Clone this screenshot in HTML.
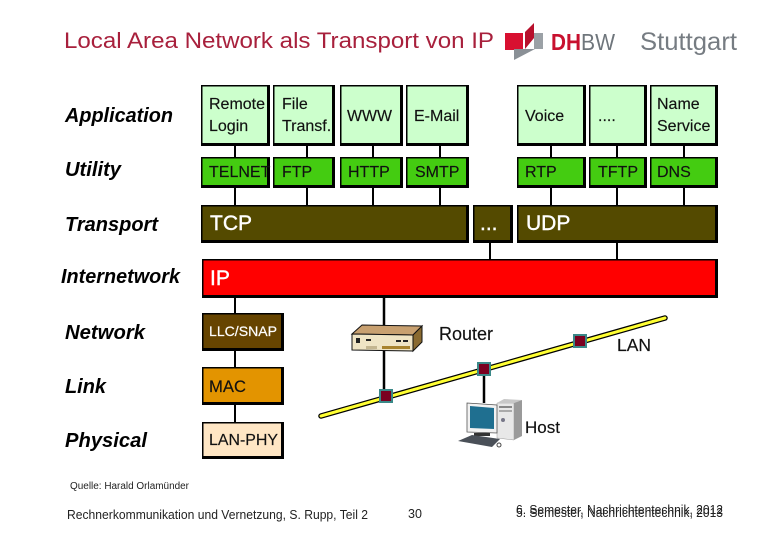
<!DOCTYPE html>
<html><head><meta charset="utf-8"><style>
html,body{margin:0;padding:0;background:#fff}
svg{display:block}
text{font-family:"Liberation Sans",sans-serif;fill:#111}
.a{font-size:16px;stroke:#111;stroke-width:.15}
.l{font-size:20px;font-style:italic;font-weight:bold;fill:#000}
.w{fill:#fff;font-size:21px;stroke:#fff;stroke-width:.4}
.f{fill:#222}
</style></head><body>
<svg width="780" height="540" viewBox="0 0 780 540" xmlns="http://www.w3.org/2000/svg">
<rect width="780" height="540" fill="#fff"/>
<text x="64" y="48" font-size="22.5" style="fill:#a8203c" textLength="430" lengthAdjust="spacingAndGlyphs">Local Area Network als Transport von IP</text>
<!-- logo -->
<polygon points="505,33 523,33 523,50 505,50" fill="#d81030"/>
<polygon points="534,33 543,33 543,49 534,49" fill="#9ba1a6"/>
<polygon points="514,49 535,49 514,60" fill="#8a9096"/>
<polygon points="525,32 534,23 534,38 525,49" fill="#b8102c"/>
<text x="551" y="50" font-size="23" font-weight="bold" style="fill:#c8102e" textLength="30" lengthAdjust="spacingAndGlyphs">DH</text>
<text x="581" y="50" font-size="23" style="fill:#6f767c" textLength="34" lengthAdjust="spacingAndGlyphs">BW</text>
<text x="640" y="50" font-size="25" style="fill:#767c82" textLength="97" lengthAdjust="spacingAndGlyphs">Stuttgart</text>
<!-- connectors -->
<g stroke="#000" stroke-width="2">
<line x1="235" y1="145" x2="235" y2="205"/><line x1="307" y1="145" x2="307" y2="205"/>
<line x1="373" y1="145" x2="373" y2="205"/><line x1="440" y1="145" x2="440" y2="205"/>
<line x1="551" y1="145" x2="551" y2="205"/><line x1="617" y1="145" x2="617" y2="205"/>
<line x1="684" y1="145" x2="684" y2="205"/>
<line x1="490" y1="243" x2="490" y2="259"/><line x1="617" y1="243" x2="617" y2="259"/>
<line x1="235" y1="297" x2="235" y2="422"/>
<line x1="384" y1="297" x2="384" y2="397" stroke-width="2.5"/>
<line x1="484" y1="369" x2="484" y2="403" stroke-width="2.5"/>
</g>
<!-- app boxes -->
<g fill="#000">
<rect x="201" y="85" width="69" height="61"/><rect x="273" y="85" width="62" height="61"/>
<rect x="340" y="85" width="63" height="61"/><rect x="406" y="85" width="63" height="61"/>
<rect x="517" y="85" width="69" height="61"/><rect x="589" y="85" width="58" height="61"/>
<rect x="650" y="85" width="68" height="61"/>
<rect x="201" y="157" width="69" height="31"/><rect x="273" y="157" width="62" height="31"/>
<rect x="340" y="157" width="63" height="31"/><rect x="406" y="157" width="63" height="31"/>
<rect x="517" y="157" width="69" height="31"/><rect x="589" y="157" width="58" height="31"/>
<rect x="650" y="157" width="68" height="31"/>
<rect x="201" y="205" width="268" height="38"/><rect x="473" y="205" width="40" height="38"/>
<rect x="517" y="205" width="201" height="38"/><rect x="202" y="259" width="516" height="39"/>
<rect x="202" y="313" width="82" height="38"/><rect x="202" y="367" width="82" height="38"/>
<rect x="202" y="422" width="82" height="37"/>
</g>
<g fill="#ccffcc">
<rect x="202.5" y="86.5" width="64.5" height="56.5"/><rect x="274.5" y="86.5" width="57.5" height="56.5"/>
<rect x="341.5" y="86.5" width="58.5" height="56.5"/><rect x="407.5" y="86.5" width="58.5" height="56.5"/>
<rect x="518.5" y="86.5" width="64.5" height="56.5"/><rect x="590.5" y="86.5" width="53.5" height="56.5"/>
<rect x="651.5" y="86.5" width="63.5" height="56.5"/>
</g>
<g fill="#44cc11">
<rect x="202.5" y="158.5" width="64.5" height="26.5"/><rect x="274.5" y="158.5" width="57.5" height="26.5"/>
<rect x="341.5" y="158.5" width="58.5" height="26.5"/><rect x="407.5" y="158.5" width="58.5" height="26.5"/>
<rect x="518.5" y="158.5" width="64.5" height="26.5"/><rect x="590.5" y="158.5" width="53.5" height="26.5"/>
<rect x="651.5" y="158.5" width="63.5" height="26.5"/>
</g>
<g fill="#544a00">
<rect x="202.5" y="206.5" width="263.5" height="33.5"/><rect x="474.5" y="206.5" width="35.5" height="33.5"/>
<rect x="518.5" y="206.5" width="196.5" height="33.5"/>
</g>
<rect x="203.5" y="260.5" width="511.5" height="34.5" fill="#ff0000"/>
<rect x="203.5" y="314.5" width="77.5" height="33.5" fill="#664400"/>
<rect x="203.5" y="368.5" width="77.5" height="33.5" fill="#e39400"/>
<rect x="203.5" y="423.5" width="77.5" height="32.5" fill="#ffe6c4"/>
<!-- layer labels -->
<text class="l" x="65" y="122" textLength="108" lengthAdjust="spacingAndGlyphs">Application</text>
<text class="l" x="65" y="176" textLength="56" lengthAdjust="spacingAndGlyphs">Utility</text>
<text class="l" x="65" y="231" textLength="93" lengthAdjust="spacingAndGlyphs">Transport</text>
<text class="l" x="61" y="283" textLength="119" lengthAdjust="spacingAndGlyphs">Internetwork</text>
<text class="l" x="65" y="339" textLength="80" lengthAdjust="spacingAndGlyphs">Network</text>
<text class="l" x="65" y="393" textLength="41" lengthAdjust="spacingAndGlyphs">Link</text>
<text class="l" x="65" y="447" textLength="82" lengthAdjust="spacingAndGlyphs">Physical</text>
<!-- box text -->
<text class="a" x="209" y="109">Remote</text><text class="a" x="209" y="131">Login</text>
<text class="a" x="282" y="109">File</text><text class="a" x="282" y="131">Transf.</text>
<text class="a" x="347" y="121" textLength="45" lengthAdjust="spacingAndGlyphs">WWW</text><text class="a" x="414" y="121">E-Mail</text>
<text class="a" x="525" y="121">Voice</text><text class="a" x="598" y="121">....</text>
<text class="a" x="657" y="109">Name</text><text class="a" x="657" y="131">Service</text>
<text class="a" x="209" y="177">TELNET</text><text class="a" x="282" y="177">FTP</text>
<text class="a" x="348" y="177">HTTP</text><text class="a" x="415" y="177">SMTP</text>
<text class="a" x="525" y="177">RTP</text><text class="a" x="598" y="177">TFTP</text>
<text class="a" x="657" y="177">DNS</text>
<text class="w" x="210" y="230">TCP</text>
<text class="w" x="480" y="230">...</text>
<text class="w" x="526" y="230">UDP</text>
<text class="w" x="210" y="285">IP</text>
<text x="209" y="336" font-size="14" style="fill:#fff;stroke:#fff;stroke-width:.2" textLength="68" lengthAdjust="spacingAndGlyphs">LLC/SNAP</text>
<text x="209" y="392" font-size="16.5" textLength="37" lengthAdjust="spacingAndGlyphs" style="stroke:#111;stroke-width:.15">MAC</text>
<text x="209" y="445" font-size="16" textLength="69" lengthAdjust="spacingAndGlyphs" style="stroke:#111;stroke-width:.15">LAN-PHY</text>
<!-- LAN line -->
<line x1="321" y1="416" x2="665" y2="318" stroke="#000" stroke-width="5.5" stroke-linecap="round"/>
<line x1="321" y1="416" x2="665" y2="318" stroke="#ffff33" stroke-width="3" stroke-linecap="round"/>
<g fill="#3a8888"><rect x="379" y="389" width="14" height="14"/><rect x="477" y="362" width="14" height="14"/><rect x="573" y="334" width="14" height="14"/></g>
<g fill="#7a0020"><rect x="381" y="391" width="10" height="10"/><rect x="479" y="364" width="10" height="10"/><rect x="575" y="336" width="10" height="10"/></g>
<!-- router -->
<g stroke="#111" stroke-width="1">
<polygon points="352,334 362,325 422,326 413,335" fill="#c8a070"/>
<polygon points="413,335 422,326 422,342 413,351" fill="#8a6a30"/>
<polygon points="352,334 413,335 413,351 352,350" fill="#efe4c4"/>
</g>
<g fill="#222"><rect x="356" y="338" width="4" height="5"/><rect x="366" y="339" width="5" height="2"/><rect x="396" y="340" width="5" height="2"/><rect x="403" y="340" width="5" height="2"/></g>
<rect x="382" y="346" width="28" height="3" fill="#a8832e"/>
<rect x="366" y="346" width="11" height="3" fill="#c4b690"/>
<!-- host -->
<polygon points="497,403 514,403 514,440 497,438" fill="#e8e8e8" stroke="#999" stroke-width=".5"/>
<polygon points="497,403 504,399 522,400 514,403" fill="#c8c8c8"/>
<polygon points="514,403 522,400 522,436 514,440" fill="#9a9a9a"/>
<rect x="499" y="406" width="13" height="2" fill="#888"/><rect x="499" y="410" width="13" height="2" fill="#aaa"/>
<circle cx="503" cy="420" r="2" fill="#778"/>
<polygon points="467,403 497,405 497,433 467,432" fill="#f2f2f2" stroke="#555" stroke-width=".8"/>
<polygon points="470,406 494,408 494,429 470,428" fill="#1f6f90"/>
<rect x="474" y="433" width="16" height="3" fill="#333"/>
<polygon points="458,441 472,435 500,439 492,447" fill="#4a5058"/>
<circle cx="499" cy="445" r="2" fill="none" stroke="#444"/>
<!-- labels -->
<text x="439" y="340" font-size="18" textLength="54" lengthAdjust="spacingAndGlyphs" style="stroke:#111;stroke-width:.15">Router</text>
<text x="617" y="351" font-size="17.5" textLength="34" lengthAdjust="spacingAndGlyphs" style="stroke:#111;stroke-width:.15">LAN</text>
<text x="525" y="433" font-size="17" textLength="35" lengthAdjust="spacingAndGlyphs" style="stroke:#111;stroke-width:.15">Host</text>
<!-- footer -->
<text class="f" x="70" y="489" font-size="10" textLength="119" lengthAdjust="spacingAndGlyphs">Quelle: Harald Orlamünder</text>
<text class="f" x="67" y="519" font-size="12.5" textLength="301" lengthAdjust="spacingAndGlyphs">Rechnerkommunikation und Vernetzung, S. Rupp, Teil 2</text>
<text class="f" x="408" y="518" font-size="12.5">30</text>
<text class="f" x="516" y="514" font-size="13" textLength="207" lengthAdjust="spacingAndGlyphs">6. Semester, Nachrichtentechnik, 2012</text>
<text class="f" x="516" y="517" font-size="13" textLength="207" lengthAdjust="spacingAndGlyphs">5. Semester, Nachrichtentechnik, 2013</text>
</svg>
</body></html>
